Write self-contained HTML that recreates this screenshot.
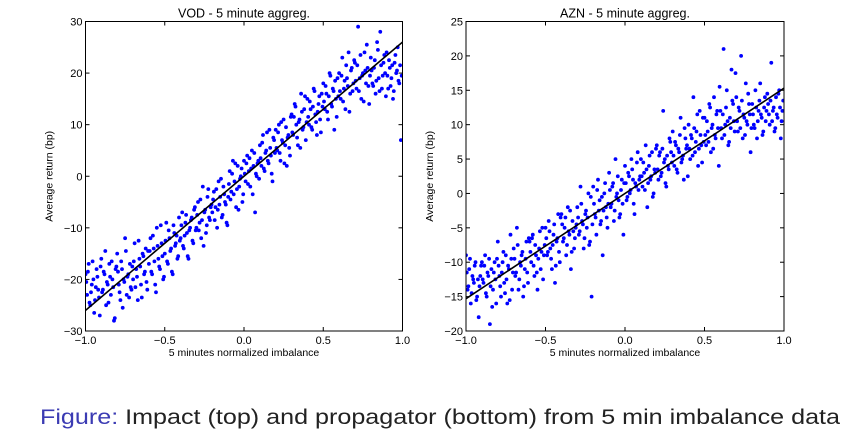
<!DOCTYPE html>
<html><head><meta charset="utf-8"><style>
html,body{margin:0;padding:0;background:#fff;width:851px;height:445px;overflow:hidden}
svg{display:block;font-family:"Liberation Sans",sans-serif}
</style></head><body>
<svg id="fig" width="851" height="445" viewBox="0 0 851 445" xmlns="http://www.w3.org/2000/svg">
<text x="40" y="424" font-size="21" textLength="800" lengthAdjust="spacingAndGlyphs"><tspan fill="#3b3bb3">Figure:</tspan><tspan fill="#222"> Impact (top) and propagator (bottom) from 5 min imbalance data</tspan></text>
</svg>
<script>
const imbalance = [
-1.00,-0.99,-0.98,-0.97,-0.96,-0.95,-0.94,-0.93,-0.92,-0.91,-0.90,-0.89,-0.88,-0.87,-0.86,-0.85,-0.84,-0.83,-0.82,-0.81,
-0.80,-0.79,-0.78,-0.77,-0.76,-0.75,-0.74,-0.73,-0.72,-0.71,-0.70,-0.69,-0.68,-0.67,-0.66,-0.65,-0.64,-0.63,-0.62,-0.61,
-0.60,-0.59,-0.58,-0.57,-0.56,-0.55,-0.54,-0.53,-0.52,-0.51,-0.50,-0.49,-0.48,-0.47,-0.46,-0.45,-0.44,-0.43,-0.42,-0.41,
-0.40,-0.39,-0.38,-0.37,-0.36,-0.35,-0.34,-0.33,-0.32,-0.31,-0.30,-0.29,-0.28,-0.27,-0.26,-0.25,-0.24,-0.23,-0.22,-0.21,
-0.20,-0.19,-0.18,-0.17,-0.16,-0.15,-0.14,-0.13,-0.12,-0.11,-0.10,-0.09,-0.08,-0.07,-0.06,-0.05,-0.04,-0.03,-0.02,-0.01,
0.00,0.01,0.02,0.03,0.04,0.05,0.06,0.07,0.08,0.09,0.10,0.11,0.12,0.13,0.14,0.15,0.16,0.17,0.18,0.19,
0.20,0.21,0.22,0.23,0.24,0.25,0.26,0.27,0.28,0.29,0.30,0.31,0.32,0.33,0.34,0.35,0.36,0.37,0.38,0.39,
0.40,0.41,0.42,0.43,0.44,0.45,0.46,0.47,0.48,0.49,0.50,0.51,0.52,0.53,0.54,0.55,0.56,0.57,0.58,0.59,
0.60,0.61,0.62,0.63,0.64,0.65,0.66,0.67,0.68,0.69,0.70,0.71,0.72,0.73,0.74,0.75,0.76,0.77,0.78,0.79,
0.80,0.81,0.82,0.83,0.84,0.85,0.86,0.87,0.88,0.89,0.90,0.91,0.92,0.93,0.94,0.95,0.96,0.97,0.98,0.99];
const imbalance2 = [
-0.995,-0.985,-0.975,-0.965,-0.955,-0.945,-0.935,-0.925,-0.915,-0.905,-0.895,-0.885,-0.875,-0.865,-0.855,-0.845,-0.835,-0.825,-0.815,-0.805,
-0.795,-0.785,-0.775,-0.765,-0.755,-0.745,-0.735,-0.725,-0.715,-0.705,-0.695,-0.685,-0.675,-0.665,-0.655,-0.645,-0.635,-0.625,-0.615,-0.605,
-0.595,-0.585,-0.575,-0.565,-0.555,-0.545,-0.535,-0.525,-0.515,-0.505,-0.495,-0.485,-0.475,-0.465,-0.455,-0.445,-0.435,-0.425,-0.415,-0.405,
-0.395,-0.385,-0.375,-0.365,-0.355,-0.345,-0.335,-0.325,-0.315,-0.305,-0.295,-0.285,-0.275,-0.265,-0.255,-0.245,-0.235,-0.225,-0.215,-0.205,
-0.195,-0.185,-0.175,-0.165,-0.155,-0.145,-0.135,-0.125,-0.115,-0.105,-0.095,-0.085,-0.075,-0.065,-0.055,-0.045,-0.035,-0.025,-0.015,-0.005,
0.005,0.015,0.025,0.035,0.045,0.055,0.065,0.075,0.085,0.095,0.105,0.115,0.125,0.135,0.145,0.155,0.165,0.175,0.185,0.195,
0.205,0.215,0.225,0.235,0.245,0.255,0.265,0.275,0.285,0.295,0.305,0.315,0.325,0.335,0.345,0.355,0.365,0.375,0.385,0.395,
0.405,0.415,0.425,0.435,0.445,0.455,0.465,0.475,0.485,0.495,0.505,0.515,0.525,0.535,0.545,0.555,0.565,0.575,0.585,0.595,
0.605,0.615,0.625,0.635,0.645,0.655,0.665,0.675,0.685,0.695,0.705,0.715,0.725,0.735,0.745,0.755,0.765,0.775,0.785,0.795,
0.805,0.815,0.825,0.835,0.845,0.855,0.865,0.875,0.885,0.895,0.905,0.915,0.925,0.935,0.945,0.955,0.965,0.975,0.985,0.995];
const vodReturns = [
-19,-23,-17,-25,-21,-20,-24,-18,-22,-27,-16,-22,-19,-25,-21,-17,-23,-20,-28,-18,
-15,-21,-24,-18,-20,-12,-23,-19,-17,-22,-20,-13,-18,-24,-16,-21,-15,-19,-14,-22,
-17,-12,-19,-14,-21,-10,-16,-18,-13,-20,-15,-9,-17,-12,-14,-19,-11,-13,-16,-8,
-12,-7,-14,-9,-11,-16,-10,-8,-13,-6,-10,-5,-9,-12,-2,-7,-11,-4,-8,-6,
-7,-3,-6,-10,-1,-4,-8,-2,-5,-9,-4,1,-3,3,-1,-6,2,-2,0,-5,
3,-1,4,1,-2,5,2,-7,0,3,6,2,8,1,5,3,9,4,-1,7,
9,5,10,3,7,11,6,2,8,4,12,8,14,10,6,11,16,9,13,7,
15,10,13,9,17,12,8,14,11,16,18,13,16,11,20,14,17,9,15,19,
20,15,23,17,13,19,24,16,21,18,22,17,29,19,15,20,24,18,21,14,
23,18,21,16,26,19,28,17,22,20,24,17,21,19,15,22,20,25,18,7];
const vodReturns2 = [
-20.5,-18.5,-24.5,-22.5,-16.5,-26.5,-21.5,-19.5,-23.5,-17.5,-22.5,-18.5,-14.5,-20.5,-24.5,-19.5,-16.5,-21.5,-27.5,-17.5,
-18.5,-22.5,-16.5,-25.5,-20.5,-14.5,-19.5,-23.5,-21.5,-17.5,-16.5,-21.5,-19.5,-12.5,-17.5,-23.5,-15.5,-18.5,-20.5,-14.5,
-14.5,-18.5,-11.5,-16.5,-22.5,-13.5,-17.5,-9.5,-15.5,-19.5,-12.5,-16.5,-10.5,-14.5,-18.5,-9.5,-13.5,-11.5,-15.5,-12.5,
-9.5,-13.5,-11.5,-7.5,-15.5,-10.5,-8.5,-12.5,-6.5,-10.5,-7.5,-10.5,-4.5,-8.5,-13.5,-6.5,-9.5,-2.5,-8.5,-5.5,
-4.5,-8.5,-2.5,-6.5,-5.5,-0.5,-7.5,-3.5,-5.5,-9.5,-1.5,-4.5,0.5,-3.5,2.5,-2.5,-6.5,-0.5,1.5,-3.5,
0.5,2.5,-1.5,3.5,1.5,-3.5,4.5,0.5,2.5,-0.5,3.5,6.5,1.5,4.5,8.5,2.5,5.5,0.5,7.5,4.5,
5.5,8.5,4.5,10.5,6.5,2.5,9.5,7.5,5.5,11.5,8.5,11.5,13.5,7.5,10.5,5.5,12.5,9.5,15.5,10.5,
11.5,14.5,9.5,13.5,16.5,10.5,12.5,15.5,8.5,13.5,14.5,17.5,12.5,15.5,19.5,13.5,16.5,18.5,11.5,15.5,
16.5,19.5,14.5,18.5,21.5,17.5,12.5,20.5,16.5,22.5,18.5,21.5,16.5,23.5,19.5,14.5,20.5,25.5,17.5,19.5,
20.5,17.5,22.5,18.5,24.5,16.5,21.5,19.5,23.5,15.5,19.5,22.5,17.5,21.5,16.5,23.5,20.5,18.5,21.5,19.5];
const aznReturns = [
-9,-14,-11,-16,-12,-13,-10,-15,-18,-12,-10,-13,-9,-15,-12,-19,-11,-14,-10,-16,
-7,-12,-15,-10,-13,-9,-16,-11,-6,-14,-8,-12,-5,-14,-10,-9,-15,-11,-7,-13,
-7,-10,-6,-12,-9,-14,-8,-11,-5,-9,-5,-9,-4,-8,-11,-6,-13,-7,-3,-10,
-3,-7,-5,-9,-2,-6,-11,-4,-8,-5,-2,-6,1,-4,-8,-3,-5,0,-7,-15,
1,-3,-6,2,-1,-4,-9,0,-2,-5,3,-2,1,-4,5,0,-1,-3,2,-6,
4,-1,3,0,5,2,-3,1,6,2,5,1,3,7,-2,4,2,6,0,3,
7,2,6,3,12,5,1,4,8,6,9,4,7,3,6,11,5,2,8,7,
10,5,8,14,6,9,4,12,7,11,11,7,9,13,6,10,14,8,12,4,
12,8,21,10,15,7,11,18,13,9,14,9,12,20,8,11,16,10,13,6,
13,10,15,8,12,16,11,9,14,12,13,10,19,12,9,14,11,15,8,12];
const aznReturns2 = [
-11.5,-13.5,-9.5,-14.5,-12.5,-10.5,-15.5,-12.5,-13.5,-10.5,-12.5,-10.5,-14.5,-11.5,-9.5,-13.5,-16.5,-11.5,-12.5,-9.5,
-10.5,-13.5,-11.5,-8.5,-14.5,-12.5,-10.5,-15.5,-9.5,-11.5,-9.5,-11.5,-7.5,-12.5,-10.5,-8.5,-13.5,-9.5,-11.5,-6.5,
-8.5,-6.5,-10.5,-7.5,-11.5,-9.5,-5.5,-8.5,-12.5,-7.5,-6.5,-8.5,-5.5,-9.5,-7.5,-4.5,-10.5,-6.5,-8.5,-3.5,
-4.5,-6.5,-3.5,-7.5,-5.5,-2.5,-8.5,-5.5,-6.5,-4.5,-3.5,-5.5,-1.5,-4.5,-6.5,-2.5,-3.5,-7.5,-0.5,-4.5,
-1.5,-3.5,0.5,-2.5,-4.5,-0.5,-2.5,1.5,-3.5,-1.5,0.5,-1.5,1.5,-2.5,-0.5,2.5,-3.5,0.5,-1.5,1.5,
1.5,-0.5,2.5,0.5,3.5,-1.5,1.5,4.5,0.5,2.5,2.5,4.5,0.5,3.5,1.5,5.5,2.5,-0.5,3.5,6.5,
3.5,5.5,2.5,6.5,4.5,1.5,5.5,3.5,7.5,4.5,5.5,7.5,3.5,6.5,8.5,4.5,5.5,9.5,6.5,2.5,
6.5,8.5,5.5,9.5,7.5,11.5,6.5,8.5,4.5,7.5,8.5,10.5,7.5,12.5,9.5,6.5,8.5,11.5,9.5,15.5,
9.5,11.5,8.5,12.5,10.5,7.5,9.5,13.5,10.5,17.5,10.5,12.5,9.5,13.5,11.5,8.5,10.5,14.5,11.5,9.5,
11.5,9.5,12.5,10.5,13.5,11.5,8.5,12.5,10.5,14.5,11.5,13.5,10.5,12.5,9.5,11.5,14.5,12.5,10.5,13.5];
const xTicks = [-1.0,-0.5,0.0,0.5,1.0];
const xTickLabels = ["\u22121.0","\u22120.5","0.0","0.5","1.0"];
const vodYTicks = [-30,-20,-10,0,10,20,30];
const aznYTicks = [-20,-15,-10,-5,0,5,10,15,20,25];
const vodFit = [-26,26];
const aznFit = [-15.3,15.3];

const NS="http://www.w3.org/2000/svg";
const svg=document.getElementById('fig');
function mk(tag,attrs,parent){const e=document.createElementNS(NS,tag);for(const k in attrs)e.setAttribute(k,attrs[k]);(parent||svg).appendChild(e);return e;}
function fmt(v){return v<0?"\u2212"+(-v):""+v;}

function panel(name,box,title,yTicks,ys,ys2,fit){
  const g=mk('g',{});
  
  
  const y0=yTicks[0], y1=yTicks[yTicks.length-1];
  const sx=v=>box.l+(v+1)/2*(box.r-box.l);
  const sy=v=>box.b-(v-y0)/(y1-y0)*(box.b-box.t);
  const clip=mk('clipPath',{id:name+'-clip'},g);
  mk('rect',{x:box.l,y:box.t,width:box.r-box.l,height:box.b-box.t},clip);
  const pts=mk('g',{'clip-path':'url(#'+name+'-clip)'},g);
  
  
  [[imbalance,ys],[imbalance2,ys2]].forEach(([xs,yv])=>{
    for(let i=0;i<xs.length;i++){
      const c=mk('circle',{cx:sx(xs[i]).toFixed(1),cy:sy(yv[i]).toFixed(1),r:1.9,fill:'#0000ff'},pts);
      
      
    }
  });
  const fl=mk('line',{x1:sx(-1),y1:sy(fit[0]),x2:sx(1),y2:sy(fit[1]),stroke:'#000','stroke-width':1.6},pts);
  
  
  const fr=mk('rect',{x:box.l,y:box.t,width:box.r-box.l,height:box.b-box.t,fill:'none',stroke:'#000','stroke-width':1},g);
  
  
  xTicks.forEach((v,i)=>{
    const x=sx(v);
    mk('line',{x1:x,y1:box.b,x2:x,y2:box.b-4,stroke:'#000'},g);
    mk('line',{x1:x,y1:box.t,x2:x,y2:box.t+4,stroke:'#000'},g);
    const t=mk('text',{x:x,y:box.b+13,'font-size':11,'text-anchor':'middle',fill:'#000'},g);
    t.textContent=xTickLabels[i];
    
    
  });
  yTicks.forEach(v=>{
    const y=sy(v);
    mk('line',{x1:box.l,y1:y,x2:box.l+4,y2:y,stroke:'#000'},g);
    mk('line',{x1:box.r,y1:y,x2:box.r-4,y2:y,stroke:'#000'},g);
    const t=mk('text',{x:box.l-3,y:y+4,'font-size':11,'text-anchor':'end',fill:'#000'},g);
    t.textContent=fmt(v);
    
    
  });
  const tt=mk('text',{x:(box.l+box.r)/2,y:box.t-4,'font-size':12.5,'text-anchor':'middle',fill:'#000'},g);
  tt.textContent=title;
  
  
  const xl=mk('text',{x:(box.l+box.r)/2,y:box.b+25,'font-size':10.5,'text-anchor':'middle',fill:'#000'},g);
  xl.textContent='5 minutes normalized imbalance';
  
  
  const cy=(box.t+box.b)/2, cx=box.l-33;
  const yl=mk('text',{x:cx,y:cy,'font-size':10.5,'text-anchor':'middle',fill:'#000',transform:'rotate(-90 '+cx+' '+cy+')'},g);
  yl.textContent='Average return (bp)';
  
  
}
panel('vod',{l:85.5,r:402.5,t:21.5,b:331},'VOD - 5 minute aggreg.',vodYTicks,vodReturns,vodReturns2,vodFit);
panel('azn',{l:466,r:784,t:21.5,b:331},'AZN - 5 minute aggreg.',aznYTicks,aznReturns,aznReturns2,aznFit);
</script>
</body></html>
